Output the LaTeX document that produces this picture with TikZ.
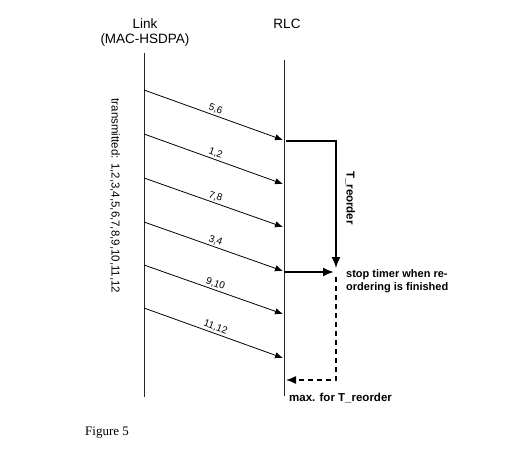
\documentclass[tikz,border=0pt]{standalone}
\usepackage{fontspec}
\setmainfont{Liberation Sans}
\newfontfamily\serifmain{Liberation Serif}
\usetikzlibrary{arrows.meta}
\begin{document}
\begin{tikzpicture}[x=1pt,y=-1pt,
  lifeline/.style={line width=0.9pt,draw=black!85},
  msg/.style={line width=0.8pt,-{Latex[length=8pt,width=6.5pt]}},
  msglabel/.style={font=\fontsize{10}{11}\selectfont,midway,above,sloped,inner sep=1.5pt},
  head/.style={font=\fontsize{13.5}{15}\selectfont,align=center,inner sep=0pt},
  timer/.style={line width=1.6pt},
  thickarrow/.style={line width=2pt,-{Latex[length=11pt,width=9pt]}},
  dashline/.style={line width=1.4pt,dashed,dash pattern=on 5pt off 4pt}
]
\useasboundingbox (0,0) rectangle (509,476);
% headers
\node[head] (link) at (145,33) {Link\\(MAC-HSDPA)};
\node[head] (rlc) at (287,24) {RLC};
% lifelines
\coordinate (Ltop) at (144,53);
\coordinate (Lbot) at (144,397);
\coordinate (Rtop) at (284,60);
\coordinate (Rbot) at (284,396);
\draw[lifeline] (Ltop) -- (Lbot);
\draw[lifeline] (Rtop) -- (Rbot);
% messages
\foreach \i/\s/\e/\t in {1/90/140/{5,6},2/134/184/{1,2},3/178/227/{7,8},4/222/271/{3,4},5/265/314/{9,10},6/308/358/{11,12}}{
  \coordinate (s\i) at (144,\s);
  \coordinate (e\i) at (283,\e);
  \draw[msg] (s\i) -- (e\i) node[msglabel] {\t};
}
% transmitted label
\node[rotate=-90,font=\fontsize{11.5}{13}\selectfont] (tx) at (115,196) {transmitted: 1,2,3,4,5,6,7,8,9,10,11,12};
% timer
\coordinate (ta) at (286,141);
\coordinate (tb) at (336,141);
\coordinate (tc) at (336,268);
\draw[timer,-{Latex[length=11pt,width=9pt]}] (ta) -- (tb) -- (tc);
\node[rotate=-90,font=\bfseries\fontsize{11.5}{13}\selectfont] (treo) at (350,198) {T\_reorder};
% stop arrow
\coordinate (sa) at (284,272);
\coordinate (sb) at (334,272);
\draw[thickarrow] (sa) -- (sb);
\node[anchor=west,align=left,font=\bfseries\fontsize{11}{13}\selectfont,inner sep=0pt] (stop) at (346,281) {stop timer when re-\\ordering is finished};
% dashed max
\coordinate (da) at (336,277);
\coordinate (db) at (336,380);
\coordinate (dc) at (286,380);
\draw[dashline,-{Latex[length=10pt,width=8pt]}] (da) -- (db) -- (dc);
\node[anchor=west,font=\bfseries\fontsize{11.5}{13}\selectfont,inner sep=0pt] (max) at (289,398) {max. for T\_reorder};
% caption
\node[anchor=west,font=\serifmain\fontsize{13}{15}\selectfont,inner sep=0pt] (fig) at (85,433) {Figure 5};
\end{tikzpicture}
\end{document}
